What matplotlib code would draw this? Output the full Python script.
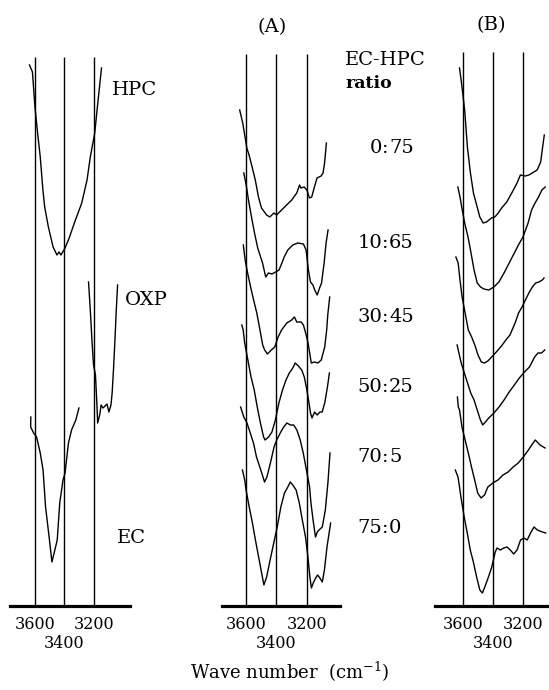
import matplotlib
matplotlib.use("Agg")
import matplotlib.pyplot as plt

plt.rcParams['font.family'] = ['DejaVu Serif']
plt.rcParams['mathtext.fontset'] = 'dejavuserif'

# --- spectra: wave number (cm-1) / transmittance (arb., offset) ---
# pure components
hpc_wn = [3635, 3615, 3598, 3580, 3562, 3544, 3532, 3507, 3475, 3449, 3435, 3422, 3394, 3366, 3331, 3281, 3245, 3223, 3193, 3170, 3147]
hpc_t = [541, 534, 499, 473, 449, 416, 399, 379, 359, 351, 354, 351, 358, 368, 383, 403, 426, 449, 473, 506, 538]

oxp_wn = [3235, 3223, 3212, 3201, 3188, 3178, 3173, 3158, 3150, 3137, 3123, 3110, 3097, 3083, 3075, 3066, 3056, 3047, 3038]
oxp_t = [324, 296, 266, 241, 231, 201, 183, 192, 201, 198, 200, 202, 194, 201, 213, 236, 266, 296, 321]

ec_wn = [3626, 3627, 3607, 3587, 3562, 3543, 3526, 3502, 3483, 3468, 3447, 3430, 3408, 3394, 3371, 3350, 3321, 3300]
ec_t = [189, 179, 173, 169, 153, 136, 99, 69, 44, 53, 66, 103, 126, 133, 163, 176, 186, 198]

# (A)
a1_wn = [3642, 3622, 3611, 3595, 3580, 3560, 3539, 3518, 3498, 3464, 3443, 3416, 3398, 3365, 3332, 3298, 3265, 3246, 3238, 3216, 3198, 3181, 3166, 3150, 3131, 3104, 3091, 3081, 3069]
a1_t = [496, 483, 473, 458, 451, 439, 426, 409, 398, 391, 389, 393, 391, 396, 401, 406, 413, 421, 418, 419, 416, 408, 409, 418, 428, 430, 433, 443, 463]

a2_wn = [3615, 3599, 3584, 3564, 3544, 3523, 3491, 3470, 3452, 3430, 3404, 3382, 3363, 3348, 3324, 3291, 3258, 3221, 3203, 3188, 3174, 3158, 3146, 3130, 3114, 3101, 3084, 3071, 3058]
a2_t = [433, 421, 406, 389, 373, 358, 343, 329, 333, 332, 334, 336, 343, 349, 356, 361, 363, 362, 356, 336, 324, 321, 316, 311, 318, 323, 343, 363, 376]

a3_wn = [3618, 3606, 3591, 3570, 3550, 3529, 3508, 3490, 3477, 3459, 3433, 3410, 3388, 3365, 3331, 3298, 3280, 3265, 3236, 3221, 3206, 3190, 3169, 3147, 3125, 3103, 3080, 3067, 3060, 3047]
a3_t = [361, 346, 334, 319, 306, 293, 276, 261, 256, 252, 256, 259, 269, 276, 283, 286, 289, 284, 284, 281, 273, 263, 243, 244, 243, 246, 259, 276, 291, 309]

a4_wn = [3628, 3619, 3609, 3588, 3567, 3546, 3526, 3505, 3484, 3474, 3451, 3429, 3406, 3383, 3359, 3336, 3314, 3291, 3275, 3254, 3232, 3215, 3198, 3184, 3174, 3164, 3147, 3130, 3112, 3097, 3080, 3062, 3049]
a4_t = [281, 276, 263, 246, 229, 216, 199, 183, 169, 166, 169, 174, 186, 203, 216, 226, 233, 238, 243, 240, 236, 229, 216, 203, 193, 188, 194, 191, 194, 194, 203, 219, 233]

a5_wn = [3636, 3615, 3594, 3572, 3551, 3531, 3509, 3488, 3478, 3462, 3439, 3415, 3397, 3374, 3351, 3330, 3307, 3285, 3264, 3242, 3222, 3201, 3180, 3171, 3157, 3141, 3129, 3118, 3096, 3076, 3059, 3045]
a5_t = [199, 189, 183, 173, 163, 149, 139, 129, 124, 129, 143, 159, 166, 173, 179, 183, 181, 181, 176, 166, 153, 136, 119, 103, 86, 69, 74, 76, 79, 96, 123, 153]

a6_wn = [3624, 3609, 3600, 3579, 3558, 3538, 3517, 3497, 3482, 3464, 3441, 3417, 3394, 3370, 3346, 3324, 3308, 3291, 3269, 3248, 3228, 3207, 3191, 3178, 3168, 3156, 3140, 3127, 3112, 3096, 3082, 3065, 3041]
a6_t = [136, 126, 116, 99, 83, 66, 49, 33, 21, 29, 46, 63, 79, 99, 113, 119, 124, 121, 116, 103, 86, 69, 49, 29, 18, 23, 28, 31, 28, 24, 36, 59, 83]

# (B)
b1_wn = [3622, 3609, 3588, 3570, 3550, 3530, 3509, 3488, 3466, 3444, 3411, 3389, 3366, 3344, 3310, 3277, 3242, 3220, 3187, 3164, 3142, 3109, 3086, 3074, 3062]
b1_t = [538, 523, 496, 459, 433, 413, 401, 389, 383, 384, 388, 389, 393, 398, 404, 413, 423, 431, 430, 431, 433, 436, 444, 458, 471]

b2_wn = [3633, 3619, 3604, 3588, 3566, 3546, 3526, 3505, 3483, 3461, 3429, 3395, 3362, 3328, 3294, 3260, 3233, 3203, 3169, 3146, 3123, 3100, 3078, 3056]
b2_t = [419, 409, 396, 383, 369, 353, 336, 323, 319, 317, 316, 319, 324, 333, 343, 353, 361, 369, 383, 396, 403, 409, 416, 419]

b3_wn = [3646, 3631, 3619, 3605, 3585, 3564, 3542, 3521, 3500, 3478, 3457, 3435, 3410, 3379, 3345, 3316, 3289, 3255, 3232, 3209, 3187, 3164, 3141, 3119, 3098, 3075, 3064]
b3_t = [349, 343, 326, 309, 293, 276, 269, 261, 251, 244, 243, 245, 249, 254, 260, 266, 271, 283, 293, 299, 306, 313, 319, 323, 324, 326, 328]

b4_wn = [3638, 3626, 3611, 3590, 3569, 3548, 3526, 3505, 3484, 3469, 3451, 3429, 3395, 3361, 3328, 3294, 3260, 3227, 3193, 3160, 3126, 3104, 3081, 3059]
b4_t = [261, 253, 243, 233, 223, 213, 206, 196, 186, 181, 184, 188, 193, 199, 206, 214, 221, 228, 234, 239, 249, 253, 253, 256]

b5_wn = [3636, 3630, 3622, 3606, 3585, 3564, 3543, 3522, 3502, 3480, 3457, 3435, 3402, 3368, 3335, 3301, 3268, 3234, 3201, 3167, 3145, 3122, 3090, 3057]
b5_t = [209, 199, 196, 179, 166, 153, 139, 126, 113, 108, 111, 119, 123, 126, 131, 134, 139, 143, 149, 156, 161, 166, 161, 158]

b6_wn = [3650, 3632, 3622, 3613, 3591, 3571, 3551, 3529, 3509, 3488, 3471, 3455, 3431, 3409, 3386, 3374, 3353, 3330, 3308, 3287, 3264, 3242, 3219, 3197, 3175, 3153, 3130, 3108, 3075, 3053]
b6_t = [136, 129, 119, 109, 89, 73, 56, 43, 29, 16, 13, 19, 29, 39, 54, 58, 56, 58, 59, 56, 52, 56, 66, 68, 66, 73, 79, 76, 74, 73]

ref_lines = [3600, 3400, 3200]
upper_ticks = [3600, 3200]      # labels on the first row
lower_ticks = [3400]            # label on the second row
ratio_left = ['0', '10', '30', '50', '70', '75']
ratio_right = ['75', '65', '45', '25', '5', '0']

W, H = 549, 690
fig = plt.figure(figsize=(W / 100, H / 100), dpi=100)


def panel(x0, x1, xlim, line_top, curves):
    # axes in pixel box: baseline at y=606 px, top at 46 px
    ax = fig.add_axes([x0 / W, (H - 606) / H, (x1 - x0) / W, 560 / H])
    ax.set_xlim(*xlim)
    ax.set_ylim(0, 560)
    for s in ['top', 'left', 'right']:
        ax.spines[s].set_visible(False)
    ax.spines['bottom'].set_linewidth(2.3)
    ax.patch.set_visible(False)
    ax.vlines(ref_lines, 0, line_top, color='black', lw=1.0)
    for wn, t in curves:
        ax.plot(wn, t, color='black', lw=1.0)
    ax.set_yticks([])
    ax.set_xticks(upper_ticks)
    ax.set_xticklabels([str(v) for v in upper_ticks], fontsize=11.5)
    ax.set_xticks(lower_ticks, minor=True)
    ax.set_xticklabels([str(v) for v in lower_ticks], minor=True, fontsize=11.5)
    ax.tick_params(axis='x', which='major', length=0, pad=7)
    ax.tick_params(axis='x', which='minor', length=0, pad=21)
    return ax


panel(10, 130, (3767, 2954), 549, [(hpc_wn, hpc_t), (oxp_wn, oxp_t), (ec_wn, ec_t)])
panel(222, 340, (3759, 2979), 552, [(a1_wn, a1_t), (a2_wn, a2_t), (a3_wn, a3_t),
                                    (a4_wn, a4_t), (a5_wn, a5_t), (a6_wn, a6_t)])
panel(435, 549, (3784, 3031), 554, [(b1_wn, b1_t), (b2_wn, b2_t), (b3_wn, b3_t),
                                    (b4_wn, b4_t), (b5_wn, b5_t), (b6_wn, b6_t)])


def ftext(x, y, s, **kw):
    fig.text(x / W, 1 - y / H, s, **kw)


ftext(112, 90, 'HPC', fontsize=14, va='center')
ftext(125, 300, 'OXP', fontsize=14, va='center')
ftext(117, 538, 'EC', fontsize=14, va='center')
ftext(272, 27, '(A)', fontsize=14, ha='center', va='center')
ftext(491, 25, '(B)', fontsize=14, ha='center', va='center')
ftext(345, 60, 'EC-HPC', fontsize=14, va='center')
ftext(345, 83, 'ratio', fontsize=12.5, fontweight='bold', va='center')

ratio_y = [148, 243, 317, 387, 457, 528]
colon_x = 385.5
for l, r, y in zip(ratio_left, ratio_right, ratio_y):
    ftext(colon_x - 3.5, y, l, fontsize=14, ha='right', va='center')
    ftext(colon_x, y, ':', fontsize=14, ha='center', va='center')
    ftext(colon_x + 3.5, y, r, fontsize=14, ha='left', va='center')

ftext(290, 672, 'Wave number  (cm$^{-1}$)', fontsize=13, ha='center', va='center')

fig.savefig('out.png', dpi=100)
